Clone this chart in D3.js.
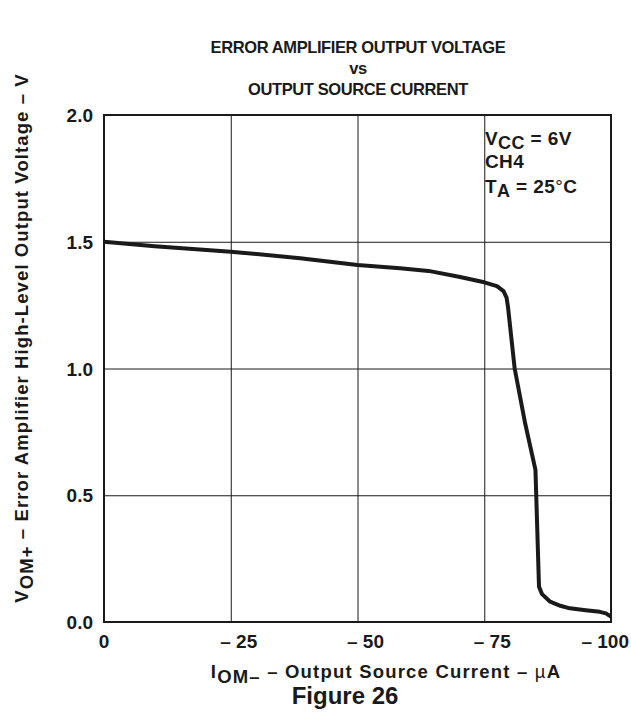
<!DOCTYPE html>
<html>
<head>
<meta charset="utf-8">
<script src="https://cdn.jsdelivr.net/npm/d3@7"></script>
<style>
  body { margin: 0; background: #fff; }
  text { font-family: "Liberation Sans", Arial, sans-serif; font-weight: bold; fill: #1a1a1a; }
</style>
</head>
<body>
<div id="chart"></div>
<script>
// source current (magnitude, uA) and output voltage (V)
var currentUA = [0, 10, 25, 38.7, 50, 58.4, 64, 70, 75, 77.5, 78.8, 79.4, 79.7, 81.0, 83.0, 85.1, 85.8, 86.4, 88, 90, 91.9, 95, 97.8, 99, 100]
var voltageV = [1.5, 1.482, 1.461, 1.435, 1.408, 1.395, 1.385, 1.362, 1.34, 1.325, 1.305, 1.28, 1.24, 1.0, 0.79, 0.60, 0.139, 0.11, 0.08, 0.064, 0.054, 0.046, 0.040, 0.034, 0.021]

var xTicks = [0, 25, 50, 75, 100]
var xTickLabels = ["0", "\u2013 25", "\u2013 50", "\u2013 75", "\u2013 100"]
var yTicks = [0, 0.5, 1.0, 1.5, 2.0]
var yTickLabels = ["0.0", "0.5", "1.0", "1.5", "2.0"]
var titleLines = ["ERROR AMPLIFIER OUTPUT VOLTAGE", "vs", "OUTPUT SOURCE CURRENT"]

var width = 631
var height = 717
var plot = { left: 104, right: 611, top: 115, bottom: 622 }

var svg = d3.select("#chart")
  .append("svg")
  .attr("width", width)
  .attr("height", height)

var x = d3.scaleLinear().domain([0, 100]).range([plot.left, plot.right])
var y = d3.scaleLinear().domain([0, 2]).range([plot.bottom, plot.top])

// title
svg.selectAll(".title")
  .data(titleLines)
  .enter()
  .append("text")
  .attr("x", 358)
  .attr("y", function (d, i) { return 53 + i * 21 })
  .attr("text-anchor", "middle")
  .style("font-size", "16.5px")
  .style("letter-spacing", "-0.4px")
  .text(function (d) { return d })

// grid lines
svg.append("g")
  .attr("transform", "translate(0," + plot.bottom + ")")
  .call(d3.axisBottom(x).tickValues(xTicks.slice(1, -1)).tickSize(-(plot.bottom - plot.top)).tickFormat(""))
  .call(function (g) { g.select(".domain").remove() })
  .selectAll("line").attr("stroke", "#1a1a1a").attr("stroke-width", 1)

svg.append("g")
  .attr("transform", "translate(" + plot.left + ",0)")
  .call(d3.axisLeft(y).tickValues(yTicks.slice(1, -1)).tickSize(-(plot.right - plot.left)).tickFormat(""))
  .call(function (g) { g.select(".domain").remove() })
  .selectAll("line").attr("stroke", "#1a1a1a").attr("stroke-width", 1)

// frame
svg.append("rect")
  .attr("x", plot.left)
  .attr("y", plot.top)
  .attr("width", plot.right - plot.left)
  .attr("height", plot.bottom - plot.top)
  .attr("fill", "none")
  .attr("stroke", "#1a1a1a")
  .attr("stroke-width", 2)

// tick labels
svg.selectAll(".ylab")
  .data(yTicks)
  .enter()
  .append("text")
  .attr("x", plot.left - 11)
  .attr("y", function (d) { return y(d) + 7 })
  .attr("text-anchor", "end")
  .style("font-size", "19px")
  .text(function (d, i) { return yTickLabels[i] })

// numbers centred on the grid line, dash hangs to the left
svg.selectAll(".xlab")
  .data(xTicks)
  .enter()
  .append("text")
  .attr("x", function (d) { return d == 100 ? 629 : (d == 0 ? x(d) : x(d) + 8) })
  .attr("y", plot.bottom + 26)
  .attr("text-anchor", function (d) { return d == 100 ? "end" : "middle" })
  .style("font-size", "19px")
  .text(function (d, i) { return xTickLabels[i] })

// curve
var line = d3.line()
  .x(function (d) { return x(d[0]) })
  .y(function (d) { return y(d[1]) })
  .curve(d3.curveLinear)

svg.append("path")
  .datum(d3.zip(currentUA, voltageV))
  .attr("d", line)
  .attr("fill", "none")
  .attr("stroke", "#1a1a1a")
  .attr("stroke-width", 4)
  .attr("stroke-linejoin", "round")

// conditions
var cond = svg.append("g").style("font-size", "19px").style("letter-spacing", "0.4px")
var t1 = cond.append("text").attr("x", 485).attr("y", 145)
t1.append("tspan").text("V")
t1.append("tspan").attr("dy", 4).style("font-size", "18px").text("CC")
t1.append("tspan").attr("dy", -4).text(" = 6V")
cond.append("text").attr("x", 485).attr("y", 168).text("CH4")
var t3 = cond.append("text").attr("x", 485).attr("y", 193)
t3.append("tspan").text("T")
t3.append("tspan").attr("dy", 4).style("font-size", "18px").text("A")
t3.append("tspan").attr("dy", -4).text(" = 25")
t3.append("tspan").style("font-weight", "normal").text("\u00b0")
t3.append("tspan").text("C")

// x axis title
var xt = svg.append("text")
  .attr("x", 386)
  .attr("y", 678)
  .attr("text-anchor", "middle")
  .style("font-size", "18.5px")
  .style("letter-spacing", "1.2px")
xt.append("tspan").text("I")
xt.append("tspan").attr("dy", 5).text("OM\u2013")
xt.append("tspan").attr("dy", -5).text(" \u2013 Output Source Current \u2013 ")
xt.append("tspan").style("font-weight", "normal").text("\u00b5")
xt.append("tspan").text("A")

svg.append("text")
  .attr("x", 345)
  .attr("y", 704)
  .attr("text-anchor", "middle")
  .style("font-size", "24px")
  .text("Figure 26")

// y axis title
var yt = svg.append("text")
  .attr("transform", "translate(28," + 338 + ") rotate(-90)")
  .attr("text-anchor", "middle")
  .style("font-size", "18.5px")
  .style("letter-spacing", "1.1px")
yt.append("tspan").text("V")
yt.append("tspan").attr("dy", 5).text("OM+")
yt.append("tspan").attr("dy", -5).text(" \u2013 Error Amplifier High-Level Output Voltage \u2013 V")
</script>
</body>
</html>
